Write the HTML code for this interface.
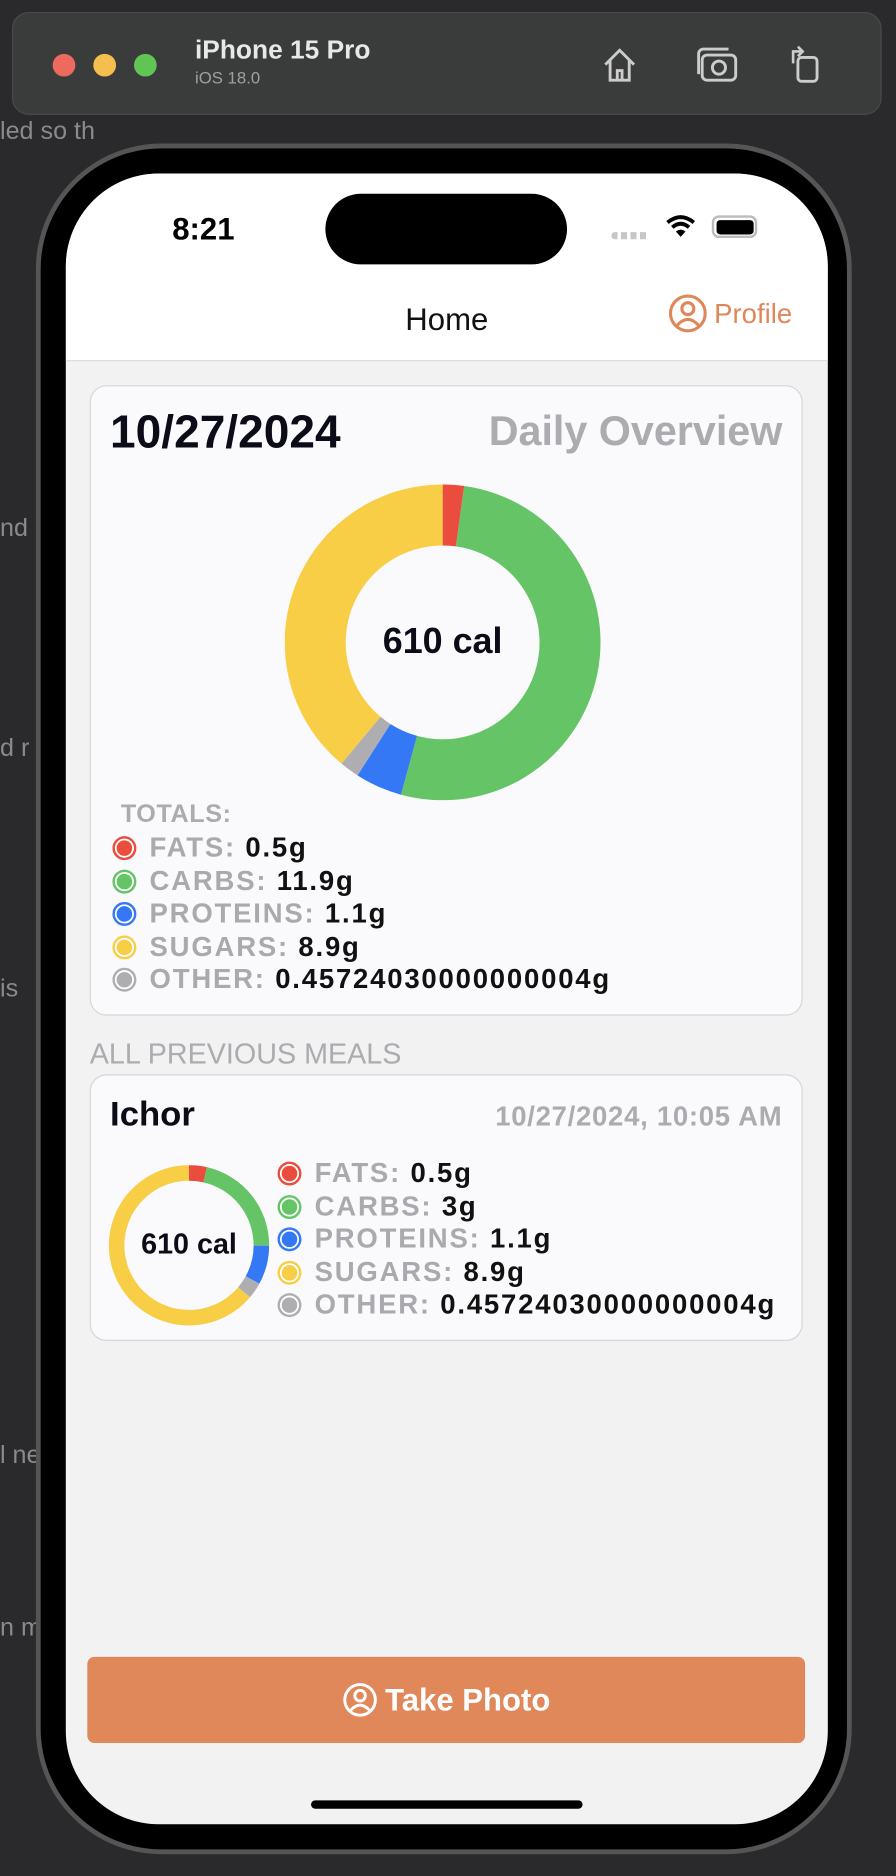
<!DOCTYPE html>
<html><head><meta charset="utf-8"><style>
*{box-sizing:border-box;margin:0;padding:0}
html,body{width:896px;height:1876px;overflow:hidden;background:#2a2a2c}
#root{position:absolute;left:0;top:0;width:749px;height:1568px;transform:scale(1.19626);transform-origin:0 0;font-family:"Liberation Sans","DejaVu Sans",sans-serif}
.abs{position:absolute}
.frag{position:absolute;color:#8a8a8c;font-size:21px;left:0}
.toolbar{left:10px;top:10px;width:727px;height:86px;background:#3a3b3b;border-radius:14px;border:1px solid #4a4a4a}
.dot{position:absolute;top:34px;width:19px;height:19px;border-radius:50%}
.frame{left:30px;top:120px;width:682px;height:1430px;border-radius:105px;background:#000;border:4px solid #555}
.screen{left:55px;top:145px;width:637px;height:1380px;border-radius:78px;background:#f2f2f2;overflow:hidden}
.card{position:absolute;background:#fafafc;border:1.5px solid #d6d6d8;border-radius:14px}
.leg{position:absolute;font-size:23px;font-weight:bold;white-space:nowrap;height:26px;line-height:26px;letter-spacing:1.5px}
.leg .c{display:inline-block;width:20px;height:20px;border-radius:50%;vertical-align:-3px;margin-right:11px;box-shadow:inset 0 0 0 2px currentColor,inset 0 0 0 3.5px #fff}
.leg .l{color:#a9a9ae}
.leg .v{color:#111}
</style></head><body>
<div id="root">
<div class="frag" style="top:98px">led so th</div>
<div class="frag" style="top:430px">nd</div>
<div class="frag" style="top:614px">d r</div>
<div class="frag" style="top:815px">is</div>
<div class="frag" style="top:1205px">l ne</div>
<div class="frag" style="top:1349px">n m</div>

<div class="abs toolbar">
 <div class="dot" style="left:33px;background:#ee6a5e"></div>
 <div class="dot" style="left:67px;background:#f5bf4f"></div>
 <div class="dot" style="left:101px;background:#61c554"></div>
 <div class="abs" style="left:152px;top:18px;color:#e8e8e8;font-weight:bold;font-size:22px">iPhone 15 Pro</div>
 <div class="abs" style="left:152px;top:46px;color:#a0a0a0;font-size:14px">iOS 18.0</div>
 <svg class="abs" style="left:490px;top:26px" width="34" height="34" viewBox="0 0 34 34"><path d="M5 17 L17 5 L29 17 M9 13 V30 H25 V13 M15 30 V22 H19 V30" fill="none" stroke="#ccc" stroke-width="2.4"/></svg>
 <svg class="abs" style="left:570px;top:26px" width="38" height="34" viewBox="0 0 38 34"><rect x="6" y="9" width="28" height="21" rx="4" fill="none" stroke="#ccc" stroke-width="2.4"/><circle cx="20" cy="19.5" r="5.5" fill="none" stroke="#ccc" stroke-width="2.4"/><path d="M3 25 V8 a4 4 0 0 1 4 -4 H28" fill="none" stroke="#ccc" stroke-width="2.4"/></svg>
 <svg class="abs" style="left:645px;top:24px" width="34" height="36" viewBox="0 0 34 36"><rect x="11" y="13" width="16" height="20" rx="3" fill="none" stroke="#ccc" stroke-width="2.4"/><path d="M7 18 V8 H14 M11 4 L15 8 L11 12" fill="none" stroke="#ccc" stroke-width="2.2"/></svg>
</div>

<div class="abs frame"></div>
<div class="abs screen">
 <div class="abs" style="left:0;top:0;width:637px;height:157px;background:#fff;border-bottom:1.5px solid #d9d9d9"></div>
 <div class="abs" style="left:89px;top:31px;font-size:26px;font-weight:bold;color:#000">8:21</div>
 <div class="abs" style="left:217px;top:17px;width:202px;height:59px;border-radius:30px;background:#000"></div>
 <div class="abs" style="left:456px;top:49px;width:32px;height:6px;background:repeating-linear-gradient(90deg,#c7c7c7 0 5px,transparent 5px 8px);border-radius:3px"></div>
 <svg class="abs" style="left:501px;top:34px" width="26" height="20" viewBox="0 0 26 20"><path d="M2 7 Q13 -2 24 7" fill="none" stroke="#000" stroke-width="3.2"/><path d="M6 11 Q13 5 20 11" fill="none" stroke="#000" stroke-width="3.2"/><path d="M13 19 L9 14.5 Q13 11.5 17 14.5Z" fill="#000"/></svg>
 <div class="abs" style="left:540px;top:35px;width:38px;height:19px;border:2px solid #bbb;border-radius:6px;padding:1.5px"><div style="width:100%;height:100%;background:#000;border-radius:3px"></div></div>
 <div class="abs" style="left:0;top:107px;width:637px;text-align:center;font-size:26px;color:#111">Home</div>
 <div class="abs" style="left:503px;top:100px;color:#e0875a;font-size:23px;display:flex;align-items:center"><svg width="34" height="34" viewBox="0 0 34 34"><circle cx="17" cy="17" r="14.5" fill="none" stroke="#e0875a" stroke-width="2.6"/><circle cx="17" cy="13" r="5" fill="none" stroke="#e0875a" stroke-width="2.6"/><path d="M8 27 Q17 17 26 27" fill="none" stroke="#e0875a" stroke-width="2.6"/></svg><span style="margin-left:5px">Profile</span></div>

 <div class="card" style="left:20px;top:177px;width:596px;height:527px">
  <div class="abs" style="left:16px;top:17px;font-size:38.5px;font-weight:bold;color:#0c0c18">10/27/2024</div>
  <div class="abs" style="right:16px;top:19px;font-size:34.5px;font-weight:bold;color:#ababb0">Daily Overview</div>
  <svg class="abs" id="bigDonut" style="left:162px;top:82px" width="264" height="264"></svg>
  <div class="abs" style="left:162px;top:82px;width:264px;height:264px;line-height:264px;text-align:center;font-size:30px;font-weight:bold;color:#0c0c18">610 cal</div>
  <div class="abs" style="left:25px;top:346px;font-size:21px;font-weight:bold;color:#ababb0;letter-spacing:0.5px">TOTALS:</div>
  <div id="bigLegend"></div>
 </div>

 <div class="abs" style="left:20px;top:723px;font-size:24px;color:#ababb0">ALL PREVIOUS MEALS</div>

 <div class="card" style="left:20px;top:753px;width:596px;height:223px">
  <div class="abs" style="left:16px;top:17px;font-size:29px;font-weight:bold;color:#0c0c18">Ichor</div>
  <div class="abs" style="right:16px;top:21px;font-size:23px;font-weight:bold;color:#ababb0;letter-spacing:0.6px">10/27/2024, 10:05 AM</div>
  <svg class="abs" id="smallDonut" style="left:15px;top:75px" width="134" height="134"></svg>
  <div class="abs" style="left:15px;top:75px;width:134px;height:134px;line-height:134px;text-align:center;font-size:24px;font-weight:bold;color:#0c0c18">610 cal</div>
  <div id="smallLegend"></div>
 </div>

 <div class="abs" style="left:18px;top:1240px;width:600px;height:72px;background:#e0885a;border-radius:6px;color:#fff;font-size:26px;font-weight:bold;display:flex;align-items:center;justify-content:center"><svg width="30" height="30" viewBox="0 0 34 34" style="margin-right:6px"><circle cx="17" cy="17" r="14.5" fill="none" stroke="#fff" stroke-width="2.8"/><circle cx="17" cy="13" r="5" fill="none" stroke="#fff" stroke-width="2.8"/><path d="M8 27 Q17 17 26 27" fill="none" stroke="#fff" stroke-width="2.8"/></svg>Take Photo</div>
 <div class="abs" style="left:205px;top:1360px;width:227px;height:7px;border-radius:4px;background:#000"></div>
</div>
</div>
<script>
const categories = ["FATS","CARBS","PROTEINS","SUGARS","OTHER"];
const dailyValues = [0.5, 11.9, 1.1, 8.9, 0.45724030000000004];
const mealValues = [0.5, 3, 1.1, 8.9, 0.45724030000000004];
const dailyLabels = ["0.5g","11.9g","1.1g","8.9g","0.45724030000000004g"];
const mealLabels = ["0.5g","3g","1.1g","8.9g","0.45724030000000004g"];
const colors = ["#ea4d3d","#65c466","#3478f6","#f7ce46","#aeaeb2"];
const sliceOrder = [0, 1, 2, 4, 3];
const NS="http://www.w3.org/2000/svg";
function donut(svg, vals, ro, ri, names){
  const c = ro;
  const tot = vals.reduce((a,b)=>a+b,0);
  let a0 = 0;
  sliceOrder.forEach(i=>{
    const v = vals[i];
    const a1 = a0 + v/tot*Math.PI*2;
    const p = (r,a)=>[c + r*Math.sin(a), c - r*Math.cos(a)];
    const large = (a1-a0)>Math.PI?1:0;
    const [x0,y0]=p(ro,a0),[x1,y1]=p(ro,a1),[x2,y2]=p(ri,a1),[x3,y3]=p(ri,a0);
    const path=document.createElementNS(NS,"path");
    path.setAttribute("d",`M${x0} ${y0} A${ro} ${ro} 0 ${large} 1 ${x1} ${y1} L${x2} ${y2} A${ri} ${ri} 0 ${large} 0 ${x3} ${y3}Z`);
    path.setAttribute("fill",colors[i]);
    
    
    svg.appendChild(path);
    a0 = a1;
  });
}
function legend(el, labels, x, y0, dy, name){
  categories.forEach((cat,i)=>{
    const d=document.createElement("div");
    d.className="leg";
    d.style.left=x+"px"; d.style.top=(y0+i*dy)+"px";
    d.innerHTML=`<span class="c" style="color:${colors[i]};background:${colors[i]}"></span><span class="l">${cat}:</span> <span class="v">${labels[i]}</span>`;
    
    
    el.appendChild(d);
  });
}
donut(document.getElementById("bigDonut"), dailyValues, 132, 81, "daily");
donut(document.getElementById("smallDonut"), mealValues, 67, 54, "meal");
legend(document.getElementById("bigLegend"), dailyLabels, 18, 372, 27.6, "daily");
legend(document.getElementById("smallLegend"), mealLabels, 156, 68, 27.6, "meal");
</script>
</body></html>
